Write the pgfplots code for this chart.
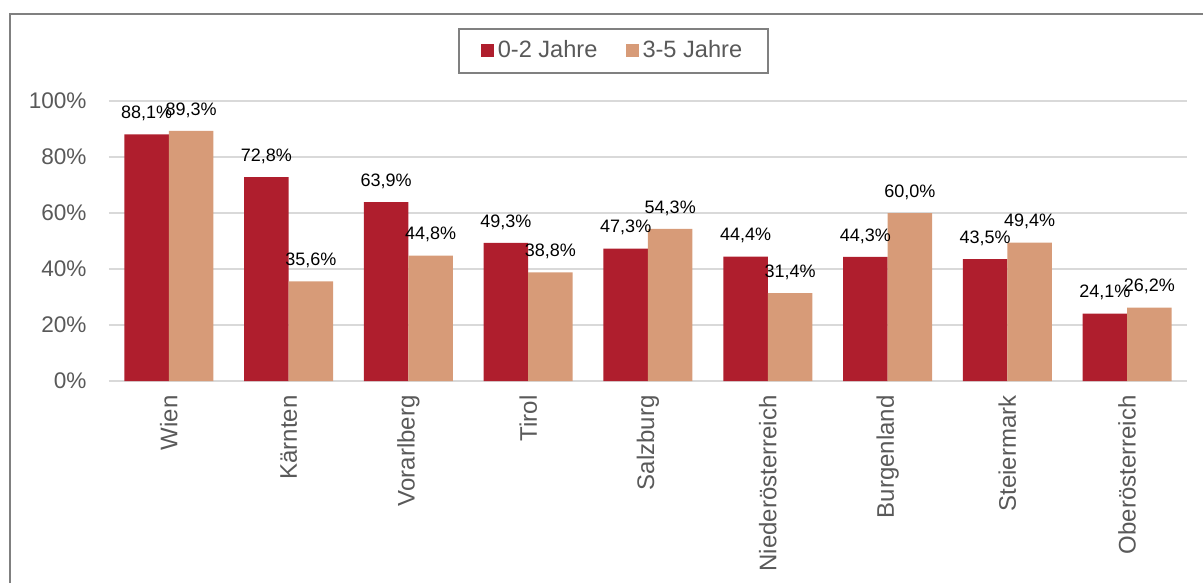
\documentclass[border=0pt]{standalone}
\usepackage{fontspec}
\setmainfont{Liberation Sans}
\usepackage{pgfplots}
\pgfplotsset{compat=1.18}
\definecolor{barred}{HTML}{AF1E2D}
\definecolor{bartan}{HTML}{D79B78}
\definecolor{gridgray}{HTML}{D9D9D9}
\definecolor{labgray}{HTML}{595959}
\definecolor{framegray}{HTML}{808080}

\begin{document}
\begin{tikzpicture}
\useasboundingbox (-54.5pt,-101pt) rectangle (547pt,190.5pt);
\begin{axis}[
  at={(0,0)}, anchor=south west,
  scale only axis,
  width=539pt, height=140pt,
  ybar=0pt, bar width=22.25pt,
  xmin=-0.5, xmax=8.5,
  ymin=0, ymax=100,
  xtick=data,
  xticklabels={Wien,K\"arnten,Vorarlberg,Tirol,Salzburg,Nieder\"osterreich,Burgenland,Steiermark,Ober\"osterreich},
  ytick={0,20,40,60,80,100},
  yticklabels={0\%,20\%,40\%,60\%,80\%,100\%},
  major tick length=0pt,
  axis line style={draw=none},
  ymajorgrids,
  grid style={gridgray, line width=1pt},
  xticklabel style={rotate=90, anchor=east, inner sep=0pt, font=\fontsize{12}{14}\selectfont, text=labgray},
  xticklabel shift=7pt,
  yticklabel style={inner sep=0pt, font=\fontsize{11.3}{13}\selectfont, text=labgray},
  yticklabel shift=11pt,
  clip=false,
  /pgf/number format/assume math mode=true,
  nodes near coords={\pgfmathprintnumber[fixed,fixed zerofill,precision=1,use comma]{\pgfplotspointmeta}\%},
  every node near coord/.append style={anchor=south, inner sep=0pt, yshift=6.5pt, font=\fontsize{9}{11}\selectfont, text=black},
  legend columns=2,
  legend style={at={(0.468,1.18)}, anchor=center, draw=framegray, line width=1pt,
    font=\fontsize{11.8}{14}\selectfont, text=labgray, inner xsep=11pt, inner ysep=4pt,
    /tikz/every even column/.append style={column sep=12pt}},
  legend image code/.code={\fill[#1, draw=none] (0pt,-3.25pt) rectangle (6.5pt,3.25pt);},
]
\addplot[fill=barred, draw=none] coordinates {
  (0,88.1) (1,72.8) (2,63.9) (3,49.3) (4,47.3) (5,44.4) (6,44.3) (7,43.5) (8,24.1)
};
\addlegendentry{0-2 Jahre}
\addplot[fill=bartan, draw=none] coordinates {
  (0,89.3) (1,35.6) (2,44.8) (3,38.8) (4,54.3) (5,31.4) (6,60.0) (7,49.4) (8,26.2)
};
\addlegendentry{3-5 Jahre}
\end{axis}
\draw[framegray, line width=1pt] (-49.5pt,-101pt) -- (-49.5pt,183.5pt) -- (547pt,183.5pt);
\end{tikzpicture}
\end{document}
